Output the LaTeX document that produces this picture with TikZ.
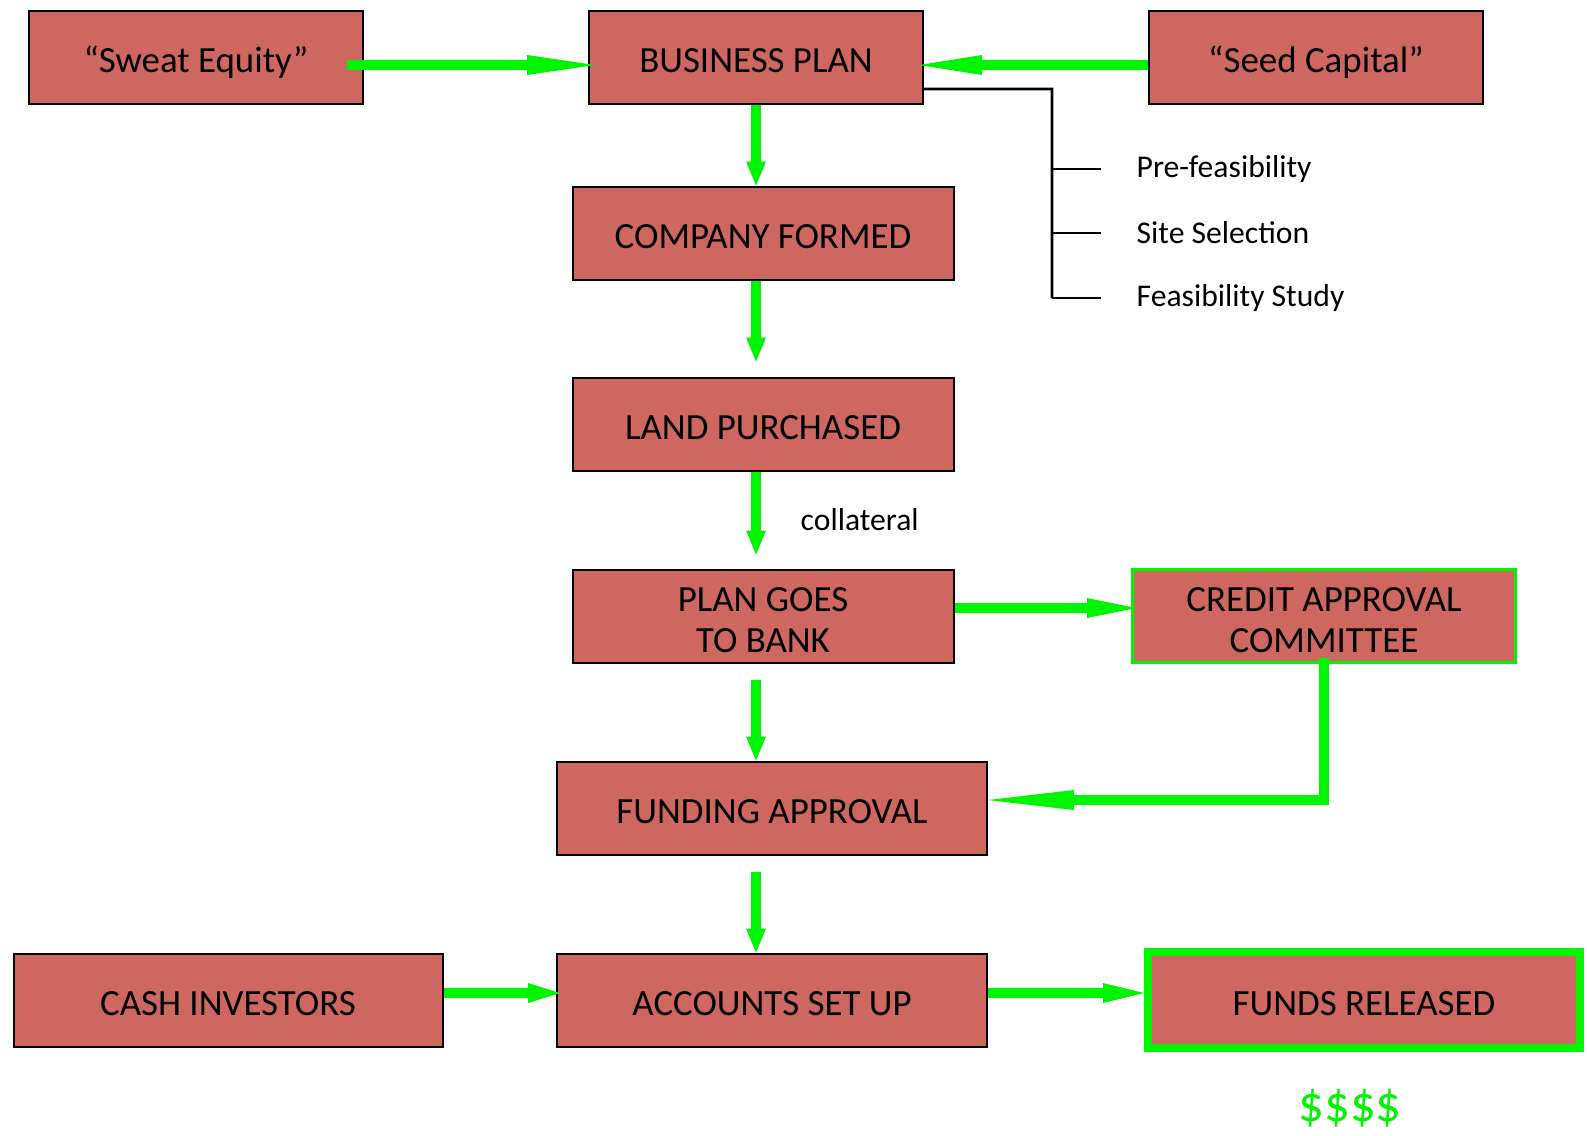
\documentclass[tikz,border=0pt]{standalone}
\usepackage{fontspec}
\setmainfont{Carlito}
\usetikzlibrary{arrows.meta}

\definecolor{stagered}{RGB}{205,103,96}
\definecolor{flowgreen}{RGB}{0,245,0}

\begin{document}
\begin{tikzpicture}[x=0.1mm, y=-0.1mm,
		stage/.style={draw=black, line width=0.2mm, fill=stagered, inner sep=0pt,
			minimum height=9.3mm, align=center, font=\fontsize{10.5}{11.8}\selectfont,
			execute at begin node={\rule{0pt}{11.5pt}},
			execute at end node={\rule[-2.5pt]{0pt}{2.5pt}}},
		flow/.style={draw=flowgreen, line width=1mm,
			-{Triangle[length=#1, width=2mm, line width=0pt]}},
		flow/.default=2.4mm,
		note/.style={anchor=west, inner sep=0pt, font=\fontsize{9}{11}\selectfont},
		bracket/.style={draw=black, line width=0.27mm}]
		\useasboundingbox (0,0) rectangle (1587,1135);
		% top row
		\node[stage, minimum width=33.4mm] (sweat) at (196,57) {“Sweat Equity”};
		\node[stage, minimum width=33.4mm] (bplan) at (756,57) {BUSINESS PLAN};
		\node[stage, minimum width=33.4mm] (seed) at (1316,57) {“Seed Capital”};
		% main column
		\node[stage, minimum width=38.1mm] (company) at (763,233) {COMPANY FORMED};
		\node[stage, minimum width=38.1mm] (land) at (763,424) {LAND PURCHASED};
		\node[stage, minimum width=38.1mm] (bank) at (763,616) {\rule{0pt}{11.5pt}PLAN GOES\\TO BANK};
		\node[stage, minimum width=38.3mm, draw=flowgreen, line width=0.3mm] (credit) at (1324,616) {\rule{0pt}{11.5pt}CREDIT APPROVAL\\COMMITTEE};
		\node[stage, minimum width=43mm] (funding) at (772,808) {FUNDING APPROVAL};
		% bottom row
		\node[stage, minimum width=42.9mm] (cash) at (228,1000) {CASH INVESTORS};
		\node[stage, minimum width=43mm] (accounts) at (772,1000) {ACCOUNTS SET UP};
		\node[stage, minimum width=43.2mm, minimum height=9.6mm, draw=flowgreen, line width=0.8mm] (funds) at (1364,1000) {FUNDS RELEASED};
		\node[text=flowgreen, font=\fontsize{14.5}{17}\selectfont] (money) at (1350,1108) {\$\$\$\$};
		
		% business plan steps
		\coordinate (trunk) at (1052,89);
		\foreach \name/\txt/\y in {pre/Pre-feasibility/169, site/Site Selection/233, study/Feasibility Study/298}
		\node[note] (\name) at (1136,\y) {\txt};
		\draw[bracket] ([yshift=-3.2mm]bplan.east) -- (trunk) -- (trunk |- study.west);
		\foreach \name in {pre, site, study}
		\draw[bracket] (trunk |- \name.west) -- ([xshift=-3.5mm]\name.west);
		\node[note] (collat) at (800,520) {collateral};
		
		% flows
		\draw[flow=6.8mm] ([shift={(-17,8)}]sweat.east) -- ([shift={(7,8)}]bplan.west);
		\draw[flow=6.3mm] ([shift={(0,8)}]seed.west) -- ([shift={(-5,8)}]bplan.east);
		\draw[flow] (bplan.south) -- (bplan.south |- company.north);
		\draw[flow] (bplan.south |- company.south) -- ([shift={(0,-15)}]bplan.south |- land.north);
		\draw[flow] (bplan.south |- land.south) -- ([shift={(0,-14)}]bplan.south |- bank.north);
		\draw[flow] ([shift={(0,16)}]bplan.south |- bank.south) -- (bplan.south |- funding.north);
		\draw[flow] ([shift={(0,16)}]bplan.south |- funding.south) -- (bplan.south |- accounts.north);
		\draw[flow=4.9mm] ([shift={(0,-8)}]bank.east) -- ([shift={(5,-8)}]credit.west);
		\draw[flow=8.6mm] ([shift={(0,-6)}]credit.south) |- ([shift={(0,-8)}]funding.east);
		\draw[flow=3.2mm] ([shift={(0,-7)}]cash.east) -- ([shift={(4,-7)}]accounts.west);
		\draw[flow=4.1mm] ([shift={(0,-7)}]accounts.east) -- ([shift={(0,-7)}]funds.west);
	\end{tikzpicture}
\end{document}
